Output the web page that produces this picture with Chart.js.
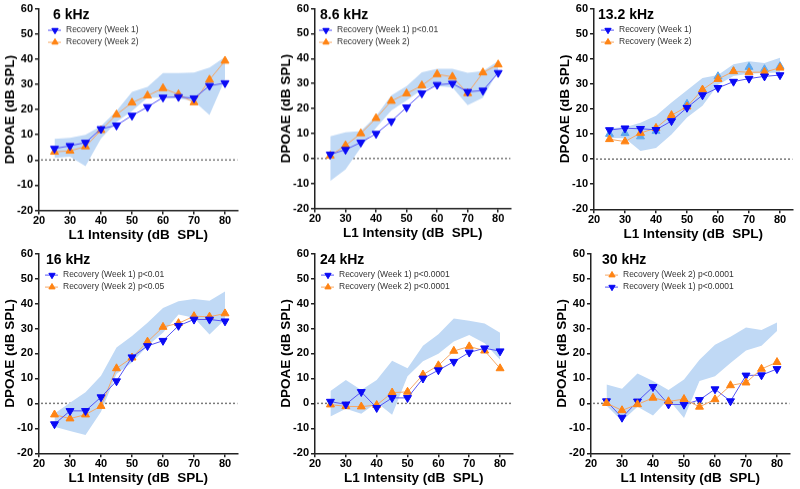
<!DOCTYPE html>
<html lang="en">
<head>
    <meta charset="UTF-8">
    <title>DPOAE recovery</title>
    <script src="https://cdn.jsdelivr.net/npm/chart.js"></script>
    <style>
        body { margin:0; background:#fff; }
        #wrap { position:relative; width:800px; height:489px; overflow:hidden; }
        .panel { position:absolute; }
    </style>
</head>
<body>
<div id="wrap"></div>

<script>
    // L1 intensity (dB SPL)
    const intensity = [25, 30, 35, 40, 45, 50, 55, 60, 65, 70, 75, 80];
    const xTicks = [20, 30, 40, 50, 60, 70, 80];
    const yTicks = [-20, -10, 0, 10, 20, 30, 40, 50, 60];

    // 6 kHz
    const w1_6k = [4.5, 5.6, 6.9, 12.3, 13.7, 17.6, 21, 24.8, 25, 24.5, 29.4, 30.5];
    const w2_6k = [3.2, 3.6, 5.3, 11.8, 18, 22.7, 25.5, 28.4, 26, 22.8, 31.8, 39.3];
    const hi_6k = [8.4, 8.8, 10, 13.4, 19.4, 27, 29, 34.5, 34.5, 34.7, 36.6, 40.8];
    const lo_6k = [0.8, 1.3, -2.5, 8.5, 15, 19.4, 24.7, 24.7, 24.4, 23.3, 17.8, 32];

    // 8.6 kHz
    const w1_86k = [1.6, 3.5, 6.4, 9.9, 14.9, 20.5, 26.1, 29.5, 30, 26.7, 27.2, 34.3];
    const w2_86k = [1.1, 5.2, 10, 16.1, 23, 26, 29.2, 33.7, 32.7, 26.1, 34.4, 37.6];
    const hi_86k = [8.9, 10.5, 11, 17, 25.2, 29, 34.5, 35.9, 35.9, 34.3, 35, 39];
    const lo_86k = [-9, -4.4, 4.3, 12.3, 19.2, 23.2, 27.6, 29, 28.5, 21.3, 24.3, 35];

    // 13.2 kHz
    const w1_132k = [11.6, 12.3, 12.1, 11.7, 15.2, 20.5, 25.5, 28.4, 30.9, 32.1, 33, 33.5];
    const w2_132k = [7.9, 7, 10.4, 12.4, 17.5, 20.9, 27.7, 31.9, 35, 34.6, 34.7, 36.4];
    const base_132k = [10, 10.3, 9, 11.2, 16.5, 22, 27.5, 33, 35, 36.7, 35.8, 37];
    const hi_132k = [12.3, 12.7, 14.5, 17.3, 22.6, 27.5, 32.3, 33.5, 37.8, 39, 38.3, 40.4];
    const lo_132k = [8.4, 8.3, 3.2, 4.4, 9.8, 16.6, 21.3, 29.6, 33.1, 34, 34.3, 34.5];

    // 16 kHz
    const w1_16k = [-8.3, -3, -3, 2.5, 8.9, 18.5, 23, 25.1, 31.1, 33.6, 33.6, 32.9];
    const w2_16k = [-4.5, -6.1, -4.5, -1.1, 14, 18.3, 24.7, 30.6, 32.1, 34.9, 34.7, 36];
    const hi_16k = [-4.1, 0.3, 4.5, 11.1, 22.4, 27, 32.3, 38.2, 40.9, 41.8, 41.1, 44.8];
    const lo_16k = [-9.4, -11.1, -12.7, -3.4, 11.8, 16.4, 23, 28.3, 35.6, 34.3, 27.6, 33.6];

    // 24 kHz
    const w1_24k = [0.7, -0.4, 4.6, -1.8, 2.2, 2.2, 10, 13.3, 16.7, 20.4, 22.1, 20.9];
    const w2_24k = [-0.5, -1.2, -1.3, -0.7, 4.3, 4.6, 11.5, 15.2, 21, 22.8, 21.1, 14];
    const hi_24k = [5, 9.4, 5.4, 9.4, 17.1, 14.1, 23.1, 27.7, 34, 33.1, 32, 28.3];
    const lo_24k = [-5.3, -2.2, -4.2, 0.4, -4.6, 10.9, 16.9, 19.9, 24.8, 27.4, 24.1, 17.5];

    // 30 kHz
    const w1_30k = [0.9, -5.7, 0.8, 6.6, -0.4, -0.5, 1.4, 5.7, 0.9, 11.2, 11.3, 13.8];
    const w2_30k = [0.1, -2.8, -0.4, 2.2, 0.8, 1.7, -1.4, 1.6, 7.2, 8.3, 13.8, 16.5];
    const hi_30k = [7.6, 5.9, 12, 9, 5.4, 9.6, 17.5, 23.5, 26.7, 30.4, 29.4, 32.4];
    const lo_30k = [-0.9, -7.1, -1.4, -4.9, 1.7, -5.9, 9, 10.9, 16.2, 21.2, 23.1, 29];

    const BLUE = '#0a0af5', BLUE_LINE = '#5555f5';
    const ORANGE = '#ff8414', ORANGE_LINE = '#f5a867';
    const BAND = '#c0d9f5';
    const FONT = "'Liberation Sans', Arial, sans-serif";

    // panel layout: y-axis x, x=84 end, y of 60, y of -20, row top, title/legend offsets
    const panels = [
        { title:'6 kHz', w1:w1_6k, w2:w2_6k, hi:hi_6k, lo:lo_6k,
          leg:['Recovery (Week 1)', 'Recovery (Week 2)'], order:[1,2],
          axX:39, axR:240, top:8, bot:209.5, row:0, tdx:14, ldx:27 },
        { title:'8.6 kHz', w1:w1_86k, w2:w2_86k, hi:hi_86k, lo:lo_86k,
          leg:['Recovery (Week 1) p<0.01', 'Recovery (Week 2)'], order:[1,2],
          axX:315, axR:513, top:7.3, bot:207.5, row:0, tdx:5, ldx:22 },
        { title:'13.2 kHz', w1:w1_132k, w2:w2_132k, hi:hi_132k, lo:lo_132k, base:base_132k,
          leg:['Recovery (Week 1)', 'Recovery (Week 2)'], order:[1,2],
          axX:594, axR:795, top:7.3, bot:209.3, row:0, tdx:4, ldx:25 },
        { title:'16 kHz', w1:w1_16k, w2:w2_16k, hi:hi_16k, lo:lo_16k,
          leg:['Recovery (Week 1) p<0.01', 'Recovery (Week 2) p<0.05'], order:[1,2],
          axX:39, axR:240, top:251.7, bot:453.3, row:245, tdx:7, ldx:24 },
        { title:'24 kHz', w1:w1_24k, w2:w2_24k, hi:hi_24k, lo:lo_24k,
          leg:['Recovery (Week 1) p<0.0001', 'Recovery (Week 2) p<0.0001'], order:[1,2],
          axX:315, axR:515, top:251, bot:453.3, row:245, tdx:5, ldx:24 },
        { title:'30 kHz', w1:w1_30k, w2:w2_30k, hi:hi_30k, lo:lo_30k,
          leg:['Recovery (Week 2) p<0.0001', 'Recovery (Week 1) p<0.0001'], order:[2,1],
          axX:591, axR:792, top:251, bot:453.3, row:245, tdx:11, ldx:32 }
    ];

    // dotted zero line + title + legend drawn inside the plot area
    const decorPlugin = {
        id: 'decor',
        beforeDatasetsDraw(chart) {
            const {ctx, chartArea, scales} = chart;
            const y0 = scales.y.getPixelForValue(0);
            ctx.save();
            ctx.strokeStyle = '#7a7a7a';
            ctx.lineWidth = 1.5;
            ctx.setLineDash([2, 2]);
            ctx.beginPath();
            ctx.moveTo(chartArea.left + 2, y0);
            ctx.lineTo(chartArea.right, y0);
            ctx.stroke();
            ctx.restore();
        },
        afterDraw(chart) {
            const p = chart.options.plugins.decor;
            const {ctx, chartArea} = chart;
            ctx.save();
            ctx.fillStyle = '#000';
            ctx.font = 'bold 14px ' + FONT;
            ctx.textBaseline = 'middle';
            ctx.textAlign = 'left';
            ctx.fillText(p.title, chartArea.left + p.tdx, chartArea.top + 7);

            ctx.font = '8.5px ' + FONT;
            p.items.forEach((it, i) => {
                const ds = chart.data.datasets[it.ds];
                const tx = chartArea.left + p.ldx;
                const y = chartArea.top + 21.5 + i * 12;
                ctx.strokeStyle = ds.borderColor;
                ctx.lineWidth = 1;
                ctx.beginPath();
                ctx.moveTo(tx - 18, y);
                ctx.lineTo(tx - 5, y);
                ctx.stroke();
                ctx.fillStyle = ds.pointBackgroundColor;
                ctx.strokeStyle = ds.pointBackgroundColor;
                Chart.helpers.drawPoint(ctx, {pointStyle:'triangle', rotation:ds.pointRotation, radius:3.6, borderWidth:1}, tx - 11, y);
                ctx.fillStyle = '#333';
                ctx.fillText(it.text, tx, y);
            });
            ctx.restore();
        }
    };

    const wrap = document.getElementById('wrap');

    panels.forEach((p, k) => {
        const left = p.axX - 39;
        const div = document.createElement('div');
        div.className = 'panel';
        div.style.left = left + 'px';
        div.style.top = p.row + 'px';
        div.style.width = (p.axR - left + 3) + 'px';
        div.style.height = (p.bot + 36 - p.row) + 'px';
        const cv = document.createElement('canvas');
        div.appendChild(cv);
        wrap.appendChild(div);

        const datasets = [
            { label:'Week 1', data:p.w1.map((v, i) => ({x:intensity[i], y:v})),
              borderColor:BLUE_LINE, borderWidth:1, pointStyle:'triangle', pointRotation:180,
              pointRadius:4.6, pointBackgroundColor:BLUE, pointBorderColor:BLUE, pointBorderWidth:1,
              order: p.order[0] === 1 ? 1 : 2 },
            { label:'Week 2', data:p.w2.map((v, i) => ({x:intensity[i], y:v})),
              borderColor:ORANGE_LINE, borderWidth:1, pointStyle:'triangle', pointRotation:0,
              pointRadius:4.6, pointBackgroundColor:ORANGE, pointBorderColor:ORANGE, pointBorderWidth:1,
              order: p.order[0] === 1 ? 2 : 1 },
            { label:'lo', data:p.lo.map((v, i) => ({x:intensity[i], y:v})),
              borderWidth:0, pointRadius:0, fill:false, order:10 },
            { label:'hi', data:p.hi.map((v, i) => ({x:intensity[i], y:v})),
              borderWidth:0, pointRadius:0, fill:'-1', backgroundColor:BAND, order:9 }
        ];
        if (p.base) {
            datasets.push({ label:'base', data:p.base.map((v, i) => ({x:intensity[i], y:v})),
              showLine:false, pointStyle:'triangle', pointRadius:4.6,
              pointBackgroundColor:'#5fa8ec', pointBorderColor:'#5fa8ec', order:5 });
        }

        const items = p.leg.map((t, i) => ({ text:t, ds: p.order[i] - 1 }));

        new Chart(cv, {
            type: 'line',
            data: { datasets: datasets },
            plugins: [decorPlugin],
            options: {
                responsive: true,
                maintainAspectRatio: false,
                animation: false,
                layout: { padding: { top: p.top - p.row, right: 3, left: 0, bottom: 0 } },
                plugins: {
                    legend: { display:false },
                    tooltip: { enabled:false },
                    decor: { title:p.title, tdx:p.tdx, ldx:p.ldx, items:items }
                },
                scales: {
                    x: {
                        type:'linear', min:20, max:84,
                        afterBuildTicks: s => { s.ticks = xTicks.map(v => ({value:v})); },
                        afterFit: s => { s.height = 36; },
                        grid: { drawOnChartArea:false, drawTicks:true, tickLength:4, color:'#222', lineWidth:1.5 },
                        border: { color:'#222', width:1.5 },
                        ticks: { padding:0, color:'#000', font:{ family:FONT, size:11, weight:'bold' } },
                        title: { display:true, text:'L1 Intensity (dB  SPL)', color:'#000',
                                 font:{ family:FONT, size:13.5, weight:'bold' }, padding:{ top:0, bottom:3 } }
                    },
                    y: {
                        min:-20, max:60,
                        afterBuildTicks: s => { s.ticks = yTicks.map(v => ({value:v})); },
                        afterFit: s => { s.width = 39; },
                        grid: { drawOnChartArea:false, drawTicks:true, tickLength:4, color:'#222', lineWidth:1.5 },
                        border: { color:'#222', width:1.5 },
                        ticks: { padding:2, color:'#000', font:{ family:FONT, size:11, weight:'bold' } },
                        title: { display:true, text:'DPOAE (dB SPL)', color:'#000',
                                 font:{ family:FONT, size:13.5, weight:'bold' }, padding:{ top:2, bottom:0 } }
                    }
                }
            }
        });
    });
</script>
</body>
</html>
